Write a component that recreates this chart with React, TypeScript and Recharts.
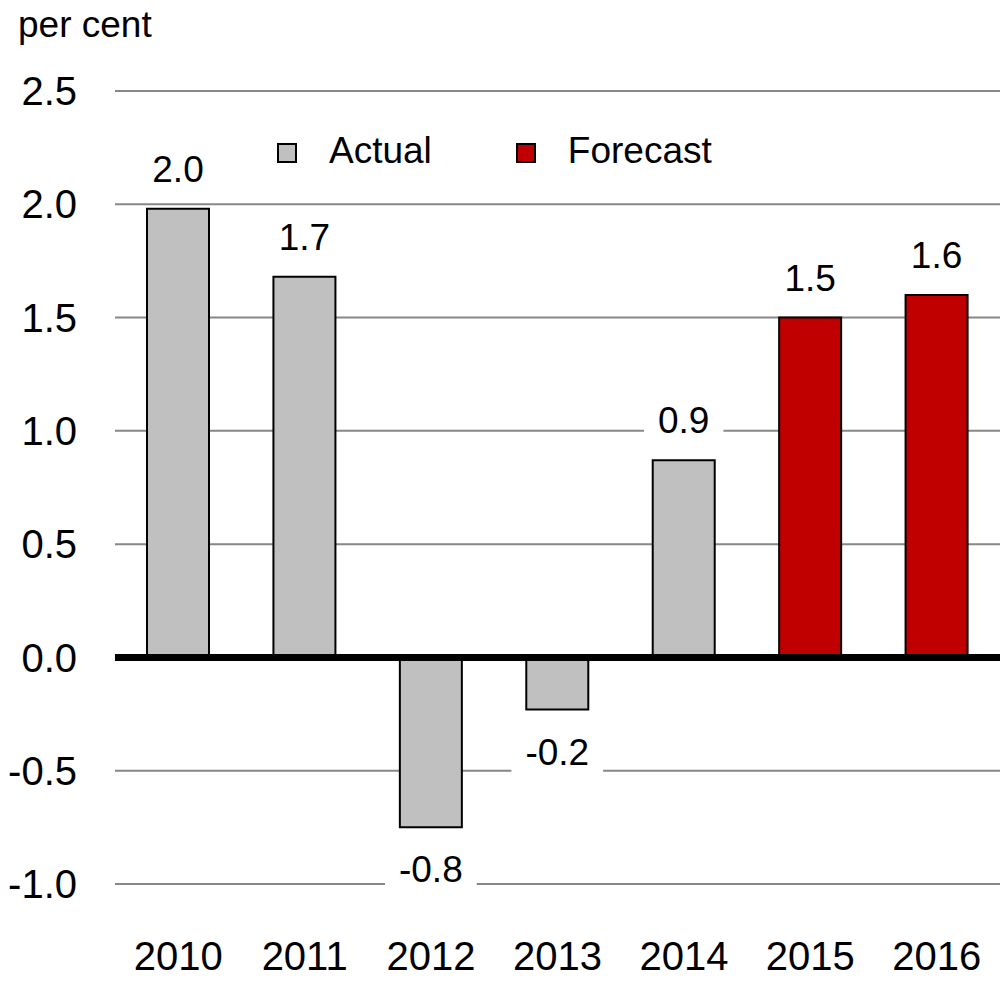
import React from 'react';
import { BarChart, Bar, XAxis, YAxis, CartesianGrid, ReferenceLine, LabelList, Cell, Legend } from 'recharts';

const years = ['2010', '2011', '2012', '2013', '2014', '2015', '2016'];
const growth = [1.98, 1.68, -0.75, -0.23, 0.87, 1.5, 1.6];
const kinds = ['Actual', 'Actual', 'Actual', 'Actual', 'Actual', 'Forecast', 'Forecast'];
const yTicks = [-1, -0.5, 0, 0.5, 1, 1.5, 2, 2.5];
const legendItems = ['Actual', 'Forecast'];
const colors: Record<string, string> = { Actual: '#C0C0C0', Forecast: '#C00000' };
const unitLabel = 'per cent';

const data = years.map((year, i) => ({ year, value: growth[i], kind: kinds[i] }));

const FONT = '"Liberation Sans", Arial, Helvetica, sans-serif';

const charW: Record<string, number> = { '.': 0.278, '-': 0.333 };
const textWidth = (s: string, fs: number) =>
  s.split('').reduce((acc, c) => acc + (charW[c] ?? 0.556), 0) * fs;

function ValueLabel(props: any) {
  const { x, y, width, height, value } = props;
  const v = Number(value);
  const cx = Number(x) + Number(width) / 2;
  const top = Math.min(Number(y), Number(y) + Number(height));
  const bottom = Math.max(Number(y), Number(y) + Number(height));
  const text = v.toFixed(1);
  const fs = 37;
  const baseline = v >= 0 ? top - 27 : bottom + 55;
  const w = textWidth(text, fs);
  const pad = 14;
  return (
    <g>
      <rect x={cx - w / 2 - pad} y={baseline - 31} width={w + pad * 2} height={42} fill="#ffffff" />
      <text x={cx} y={baseline} textAnchor="middle" fontSize={fs} fontFamily={FONT} fill="#000000">
        {text}
      </text>
    </g>
  );
}

function LegendContent() {
  return (
    <div style={{ display: 'flex', alignItems: 'flex-start', fontFamily: FONT, fontSize: 37, lineHeight: '37px', color: '#000' }}>
      {legendItems.map((name, i) => (
        <div key={name} style={{ display: 'flex', alignItems: 'flex-start', marginRight: i === 0 ? 84 : 0 }}>
          <div
            style={{
              width: 20,
              height: 20,
              boxSizing: 'border-box',
              border: '2px solid #000',
              background: colors[name],
              marginTop: 11,
              marginRight: 32,
            }}
          />
          <span style={{ whiteSpace: 'nowrap' }}>{name}</span>
        </div>
      ))}
    </div>
  );
}

export default function App() {
  return (
    <div style={{ position: 'absolute', left: 0, top: 0, width: 1002, height: 1004, background: '#fff' }}>
      <div
        style={{
          position: 'absolute',
          left: 18,
          top: 6,
          fontFamily: FONT,
          fontSize: 37,
          lineHeight: '37px',
          color: '#000',
          whiteSpace: 'nowrap',
        }}
      >
        {unitLabel}
      </div>
      <BarChart
        width={1002}
        height={1004}
        data={data}
        margin={{ top: 91, right: 2, bottom: 60, left: 0 }}
        barCategoryGap={0}
      >
        <CartesianGrid horizontal vertical={false} stroke="#878787" strokeWidth={2} />
        <XAxis
          dataKey="year"
          axisLine={false}
          tickLine={false}
          tickSize={0}
          tickMargin={58}
          height={60}
          interval={0}
          tick={{ fontSize: 40, fontFamily: FONT, fill: '#000' }}
        />
        <YAxis
          type="number"
          domain={[-1, 2.5]}
          ticks={yTicks}
          interval={0}
          width={115}
          axisLine={false}
          tickLine={false}
          tickSize={0}
          tickMargin={38}
          tickFormatter={(v: number) => v.toFixed(1)}
          tick={{ fontSize: 40, fontFamily: FONT, fill: '#000' }}
        />
        <Legend
          layout="horizontal"
          verticalAlign="middle"
          align="center"
          content={<LegendContent />}
          wrapperStyle={{ position: 'absolute', left: 277, top: 132, width: 'auto', height: 'auto' }}
        />
        <Bar dataKey="value" barSize={62} stroke="#000" strokeWidth={2} isAnimationActive={false}>
          {data.map((d) => (
            <Cell key={d.year} fill={colors[d.kind]} />
          ))}
          <LabelList dataKey="value" content={<ValueLabel />} />
        </Bar>
        <ReferenceLine y={0} stroke="#000" strokeWidth={7} />
      </BarChart>
    </div>
  );
}
